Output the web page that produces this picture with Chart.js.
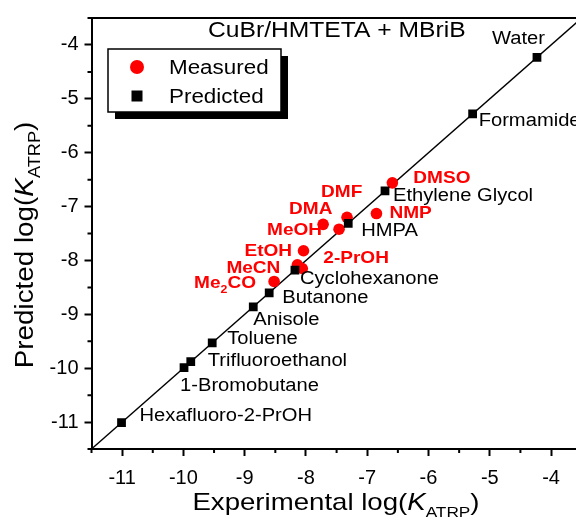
<!DOCTYPE html>
<html>
<head>
<meta charset="utf-8">
<script src="https://cdn.jsdelivr.net/npm/chart.js@4.4.1/dist/chart.umd.min.js"></script>
<style>
  html, body { margin: 0; padding: 0; overflow: hidden; background: #fff; }
</style>
</head>
<body>
<canvas id="myChart" width="600" height="518"></canvas>
<script>
// predicted values (black squares), sit on the y = x line
const predNames = ['Water', 'Formamide', 'Ethylene Glycol', 'HMPA', 'Cyclohexanone', 'Butanone',
  'Anisole', 'Toluene', 'Trifluoroethanol', '1-Bromobutane', 'Hexafluoro-2-PrOH'];
const predValues = [-4.23, -5.28, -6.71, -7.31, -8.18, -8.60, -8.86, -9.53, -9.88, -9.99, -11.01];

// measured values (red circles)
const measNames = ['DMSO', 'NMP', 'DMF', 'DMA', 'MeOH', 'EtOH', 'MeCN', '2-PrOH', 'Me2CO'];
const measExp = [-6.59, -6.85, -7.33, -7.72, -7.46, -8.04, -8.14, -8.06, -8.52];
const measPred = [-6.56, -7.13, -7.20, -7.33, -7.42, -7.82, -8.08, -8.15, -8.39];

const tickValues = [-11, -10, -9, -8, -7, -6, -5, -4];

// label offsets from the marker (px): left edge, vertical middle
const predOffsets = [[-45, -16], [6, 9], [8, 7], [13, 10], [5, 11], [13, 7], [0, 15], [15, -2], [17, 1], [-4, 20], [18, -5]];
const measOffsets = [[21, -3], [13, 1], [-26, -23], [-34, -13], [-72, 3], [-59, 2], [-71, 5], [21, -9], [-80, 4]];

const FONT = '"Liberation Sans", Arial, sans-serif';
const SX = 1.12; // text in the picture is a little wide

function rich(ctx, parts, x, y, sx) {
  ctx.save();
  ctx.translate(x, y);
  ctx.scale(sx, 1);
  ctx.textBaseline = 'alphabetic';
  let cx = 0;
  parts.forEach(p => {
    ctx.font = p.font;
    ctx.fillStyle = p.color || '#000';
    ctx.fillText(p.t, cx, p.dy || 0);
    cx += ctx.measureText(p.t).width;
  });
  ctx.restore();
}

function richWidth(ctx, parts) {
  let w = 0;
  parts.forEach(p => { ctx.font = p.font; w += ctx.measureText(p.t).width; });
  return w;
}

const extras = {
  id: 'extras',
  afterDraw(chart) {
    const ctx = chart.ctx;
    const a = chart.chartArea;
    const xs = chart.scales.x, ys = chart.scales.y;
    ctx.save();
    ctx.strokeStyle = '#000';
    ctx.lineWidth = 2;
    // top frame
    ctx.beginPath();
    ctx.moveTo(a.left, a.top);
    ctx.lineTo(a.right, a.top);
    ctx.stroke();
    // minor ticks
    ctx.beginPath();
    for (let v = -11.5; v <= -3.5; v += 1) {
      const px = xs.getPixelForValue(v);
      ctx.moveTo(px, a.bottom);
      ctx.lineTo(px, a.bottom + 4);
      const py = ys.getPixelForValue(v);
      ctx.moveTo(a.left, py);
      ctx.lineTo(a.left - 4, py);
    }
    ctx.stroke();

    // point labels
    const black = '18px ' + FONT;
    const red = 'bold 17px ' + FONT;
    predNames.forEach((n, i) => {
      const px = xs.getPixelForValue(predValues[i]) + predOffsets[i][0];
      const py = ys.getPixelForValue(predValues[i]) + predOffsets[i][1] + 3;
      rich(ctx, [{ t: n, font: black }], px, py, SX);
    });
    measNames.forEach((n, i) => {
      const px = xs.getPixelForValue(measExp[i]) + measOffsets[i][0];
      const py = ys.getPixelForValue(measPred[i]) + measOffsets[i][1] + 3;
      let parts = [{ t: n, font: red, color: '#ff0000' }];
      if (n === 'Me2CO') {
        parts = [
          { t: 'Me', font: red, color: '#ff0000' },
          { t: '2', font: 'bold 11px ' + FONT, color: '#ff0000', dy: 5 },
          { t: 'CO', font: red, color: '#ff0000' }
        ];
      }
      rich(ctx, parts, px, py, SX);
    });

    // title
    rich(ctx, [{ t: 'CuBr/HMTETA + MBriB', font: '22px ' + FONT }], 208, 37, SX);

    // legend box with shadow
    ctx.fillStyle = '#000';
    ctx.fillRect(115, 56, 173, 63);
    ctx.fillStyle = '#fff';
    ctx.fillRect(108, 49, 173, 63);
    ctx.lineWidth = 1.5;
    ctx.strokeRect(108, 49, 173, 63);
    ctx.fillStyle = '#ff0000';
    ctx.beginPath();
    ctx.arc(137, 67, 7, 0, Math.PI * 2);
    ctx.fill();
    ctx.fillStyle = '#000';
    ctx.fillRect(131.5, 90.5, 11, 11);
    rich(ctx, [{ t: 'Measured', font: '20px ' + FONT }], 169, 74, SX);
    rich(ctx, [{ t: 'Predicted', font: '20px ' + FONT }], 169, 103, SX);

    // axis titles
    const xParts = [
      { t: 'Experimental log(', font: '24px ' + FONT },
      { t: 'K', font: 'italic 24px ' + FONT },
      { t: 'ATRP', font: '15px ' + FONT, dy: 7 },
      { t: ')', font: '24px ' + FONT }
    ];
    const xw = richWidth(ctx, xParts) * 1.15;
    rich(ctx, xParts, 336 - xw / 2, 510, 1.15);

    const yParts = [
      { t: 'Predicted log(', font: '26px ' + FONT },
      { t: 'K', font: 'italic 26px ' + FONT },
      { t: 'ATRP', font: '17px ' + FONT, dy: 7 },
      { t: ')', font: '26px ' + FONT }
    ];
    const yw = richWidth(ctx, yParts) * 1.07;
    ctx.save();
    ctx.translate(33, 245);
    ctx.rotate(-Math.PI / 2);
    rich(ctx, yParts, -yw / 2, 0, 1.07);
    ctx.restore();

    ctx.restore();
  }
};

function axis(pos) {
  return {
    type: 'linear',
    position: pos,
    min: -11.5,
    max: -3.5,
    afterBuildTicks: s => { s.ticks = tickValues.map(v => ({ value: v })); },
    afterFit: s => {
      if (pos === 'left') s.width = 91.5; else s.height = 69;
    },
    border: { display: true, color: '#000', width: 2 },
    grid: { drawOnChartArea: false, drawTicks: true, tickLength: 7, tickWidth: 2, tickColor: '#000' },
    ticks: {
      color: '#000',
      font: { family: FONT, size: 20 },
      padding: pos === 'left' ? 6 : 10,
      maxRotation: 0,
      autoSkip: false
    }
  };
}

const ctx = document.getElementById('myChart').getContext('2d');
const chart = new Chart(ctx, {
  type: 'scatter',
  data: {
    datasets: [
      {
        label: 'Predicted',
        data: predValues.map(v => ({ x: v, y: v })),
        pointStyle: 'rect',
        pointRadius: 6.2,
        backgroundColor: '#000',
        borderWidth: 0
      },
      {
        label: 'Measured',
        data: measExp.map((v, i) => ({ x: v, y: measPred[i] })),
        pointStyle: 'circle',
        pointRadius: 5.8,
        backgroundColor: '#ff0000',
        borderWidth: 0
      },
      {
        label: 'y = x',
        type: 'line',
        data: [{ x: -11.5, y: -11.5 }, { x: -3.5, y: -3.5 }],
        borderColor: '#000',
        borderWidth: 1.4,
        pointRadius: 0,
        fill: false
      }
    ]
  },
  options: {
    responsive: false,
    animation: false,
    devicePixelRatio: 1,
    layout: { padding: { top: 11.7, right: 18.3, left: 0, bottom: 0 } },
    plugins: { legend: { display: false }, tooltip: { enabled: false } },
    scales: { x: axis('bottom'), y: axis('left') }
  },
  plugins: [extras]
});
</script>
</body>
</html>
